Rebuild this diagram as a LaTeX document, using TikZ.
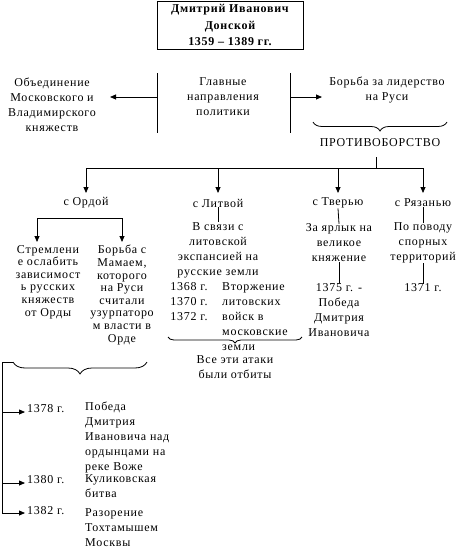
\documentclass[tikz,border=0pt]{standalone}
\usepackage{fontspec}
\setmainfont{Liberation Serif}[LetterSpace=6]
\usetikzlibrary{arrows.meta,decorations.pathreplacing}
\tikzset{
  txt/.style={align=center, inner sep=0pt, font=\fontsize{12}{15}\selectfont},
  txtl/.style={align=left, inner sep=0pt, font=\fontsize{12}{15}\selectfont},
  tight/.style={align=center, inner sep=0pt, font=\fontsize{12}{12.6}\selectfont},
  ln/.style={line width=0.8pt},
  arr/.style={ln, -{Triangle[length=6pt,width=5pt]}},
  brc/.style={ln, decorate, decoration={brace, mirror, amplitude=#1}},
}
\begin{document}
\begin{tikzpicture}[x=1pt,y=-1pt]
\useasboundingbox (0,0) rectangle (472,557);
% title
\node[draw, ln, minimum width=146pt, minimum height=48pt, align=center, inner sep=0pt,
  font=\fontsize{12}{16.5}\selectfont\bfseries] (title) at (230,25)
  {Дмитрий Иванович\\Донской\\1359 – 1389 гг.};
% main directions
\node[txt] (main) at (223,97) {Главные\\направления\\политики};
\node[txt] (unite) at (52,105) {Объединение\\Московского и\\Владимирского\\княжеств};
\node[txt] (lead) at (387,90) {Борьба за лидерство\\на Руси};
\coordinate (lt) at (157,73); \coordinate (lb) at (157,133); \coordinate (lm) at (157,97);
\coordinate (rt) at (290,73); \coordinate (rb) at (290,133); \coordinate (rm) at (290,97);
\coordinate (la) at (110,97); \coordinate (ra) at (322,97);
\draw[ln] (lt) -- (lb);
\draw[ln] (rt) -- (rb);
\draw[arr] (lm) -- (la);
\draw[arr] (rm) -- (ra);
% brace and opposition
\coordinate (b1l) at (313,122); \coordinate (b1r) at (447,122);
\draw[brc=9pt] (b1l) -- (b1r);
\node[txt] (opp) at (380,143) {ПРОТИВОБОРСТВО};
\coordinate (tt) at (376,157);
\coordinate (tr) at (376,168);
\coordinate (h1) at (86,168); \coordinate (h4) at (423,168);
\coordinate (h2) at (218,168); \coordinate (h3) at (338,168);
\draw[ln] (tt) -- (tr);
\draw[ln] (h1) -- (h4);
\node[txt] (horde) at (86,203) {с Ордой};
\node[txt] (lit) at (218,203) {с Литвой};
\node[txt] (tver) at (338,203) {с Тверью};
\node[txt] (ryaz) at (423,203) {с Рязанью};
\coordinate (e1) at (86,193); \coordinate (e2) at (218,193);
\coordinate (e3) at (338,193); \coordinate (e4) at (423,193);
\draw[arr] (h1) -- (e1);
\draw[arr] (h2) -- (e2);
\draw[arr] (h3) -- (e3);
\draw[arr] (h4) -- (e4);
% Horde branch
\coordinate (o1) at (37,218); \coordinate (o2) at (122,218);
\coordinate (oa) at (37,242); \coordinate (ob) at (122,242);
\draw[ln] (o1) -- (o2);
\draw[arr] (o1) -- (oa);
\draw[arr] (o2) -- (ob);
\node[tight] (hordeA) at (48,282) {Стремлени\\е ослабить\\зависимост\\ь русских\\княжеств\\от Орды};
\node[tight] (hordeB) at (122,295) {Борьба с\\Мамаем,\\которого\\на Руси\\считали\\узурпаторо\\м власти в\\Орде};
\coordinate (b3l) at (13,362); \coordinate (b3r) at (147,362);
\draw[brc=12pt] (b3l) -- (b3r);
\coordinate (v0) at (2,362); \coordinate (v1) at (2,412); \coordinate (v2) at (2,483); \coordinate (v3) at (2,513);
\coordinate (t1) at (25,412); \coordinate (t2) at (25,483); \coordinate (t3) at (25,513);
\draw[ln] (b3l) -- (v0) -- (v3);
\draw[arr] (v1) -- (t1);
\draw[arr] (v2) -- (t2);
\draw[arr] (v3) -- (t3);
\node[txtl, anchor=west] (y1378) at (27,409) {1378 г.};
\node[txtl, anchor=west] (y1380) at (27,480) {1380 г.};
\node[txtl, anchor=west] (y1382) at (27,511) {1382 г.};
\node[txtl, anchor=west] (ev1) at (85,437) {Победа\\Дмитрия\\Ивановича над\\ордынцами на\\реке Воже};
\node[txtl, anchor=west] (ev2) at (85,486) {Куликовская\\битва};
\node[txtl, anchor=west] (ev3) at (85,528) {Разорение\\Тохтамышем\\Москвы};
% Lithuania branch
\node[txt] (litA) at (218,250) {В связи с\\литовской\\экспансией на\\русские земли};
\draw[ln] (lit.south) -- (litA.north);
\node[txtl] (litY) at (189,302) {1368 г.\\1370 г.\\1372 г.};
\node[txtl, anchor=west] (litC) at (222,317) {Вторжение\\литовских\\войск в\\московские\\земли};
\coordinate (b2l) at (168,337); \coordinate (b2r) at (302,337);
\draw[brc=6pt] (b2l) -- (b2r);
\node[txt] (litD) at (235,367) {Все эти атаки\\были отбиты};
% Tver branch
\node[txt] (tvA) at (339,243) {За ярлык на\\великое\\княжение};
\node[txt] (tvB) at (339,310) {1375 г. -\\Победа\\Дмитрия\\Ивановича};
\draw[ln] (tver.south) -- (tvA.north);
\draw[ln] (tvA.south) -- (tvB.north);
% Ryazan branch
\node[txt] (rzA) at (423,243) {По поводу\\спорных\\территорий};
\node[txt] (rzB) at (423,288) {1371 г.};
\draw[ln] (ryaz.south) -- (rzA.north);
\draw[ln] (rzA.south) -- (rzB.north);
\end{tikzpicture}
\end{document}
